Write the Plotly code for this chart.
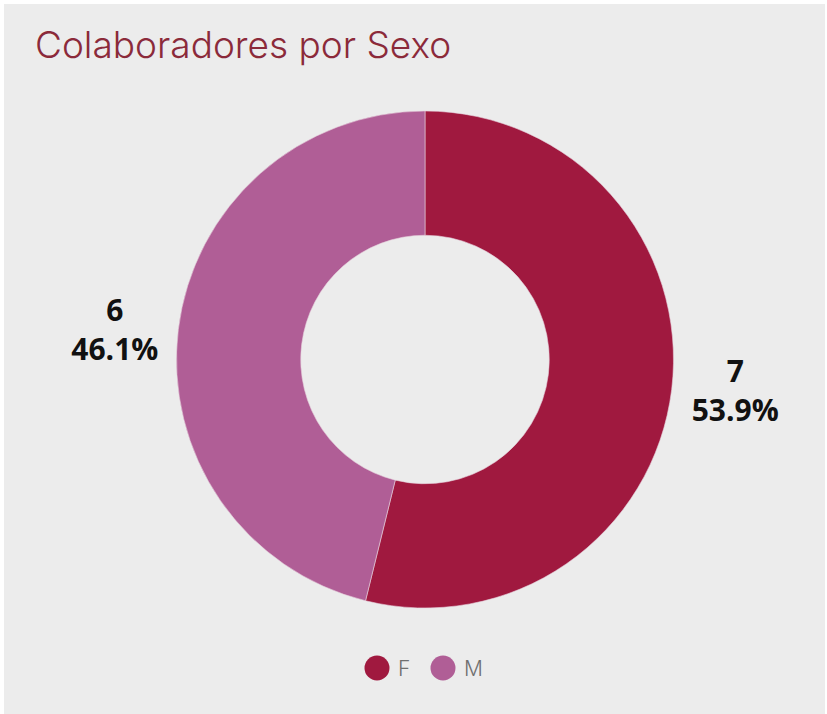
import plotly.graph_objects as go

categories = ["F", "M"]
values = [7, 6]
percent_labels = ["53.9%", "46.1%"]
colors = ["#a0193f", "#b05e96"]
title_text = "Colaboradores por Sexo"

OX, OY = 4, 4          # page offset of the figure (body margin)
W, H = 821, 710        # figure size

def px(x):  # page x -> paper
    return (x - OX) / W

def py(y):  # page y -> paper (from bottom)
    return 1 - (y - OY) / H

fig = go.Figure()
fig.add_trace(go.Pie(
    labels=categories, values=values, text=percent_labels, hole=0.5, sort=False,
    direction="clockwise", rotation=0,
    marker=dict(colors=colors, line=dict(color="#e6d0dc", width=0.6)),
    textposition="outside", texttemplate="<b>%{value}<br>%{text}</b>",
    textfont=dict(family="Open Sans", size=30, color="#111111"),
    domain=dict(x=[px(176), px(674)], y=[py(608), py(111)]),
    showlegend=False, hoverinfo="label+value+text",
))

shapes, annotations = [], []
leg_x = [377, 443]
leg_y = 668
r = 12.5
for i, c in enumerate(categories):
    cx = leg_x[i]
    shapes.append(dict(type="circle", xref="paper", yref="paper",
                       x0=px(cx - r), x1=px(cx + r),
                       y0=py(leg_y + r), y1=py(leg_y - r),
                       fillcolor=colors[i], line=dict(width=0)))
    annotations.append(dict(text=c, xref="paper", yref="paper", x=px(cx + r + 6),
                            y=py(leg_y), xanchor="left", yanchor="middle",
                            showarrow=False, font=dict(family="Inter", size=21, color="#707070", weight=300)))

fig.update_layout(
    width=W, height=H, margin=dict(l=0, r=0, t=0, b=0),
    paper_bgcolor="#ececec", plot_bgcolor="#ececec",
    title=dict(text=title_text, x=px(35), xanchor="left", y=py(45), yanchor="middle",
               font=dict(family="Inter", size=37, color="#8b2a3a", weight=300)),
    shapes=shapes, annotations=annotations,
)
fig.write_html("out.html", post_script="document.body.style.margin='4px 0 0 4px';")
